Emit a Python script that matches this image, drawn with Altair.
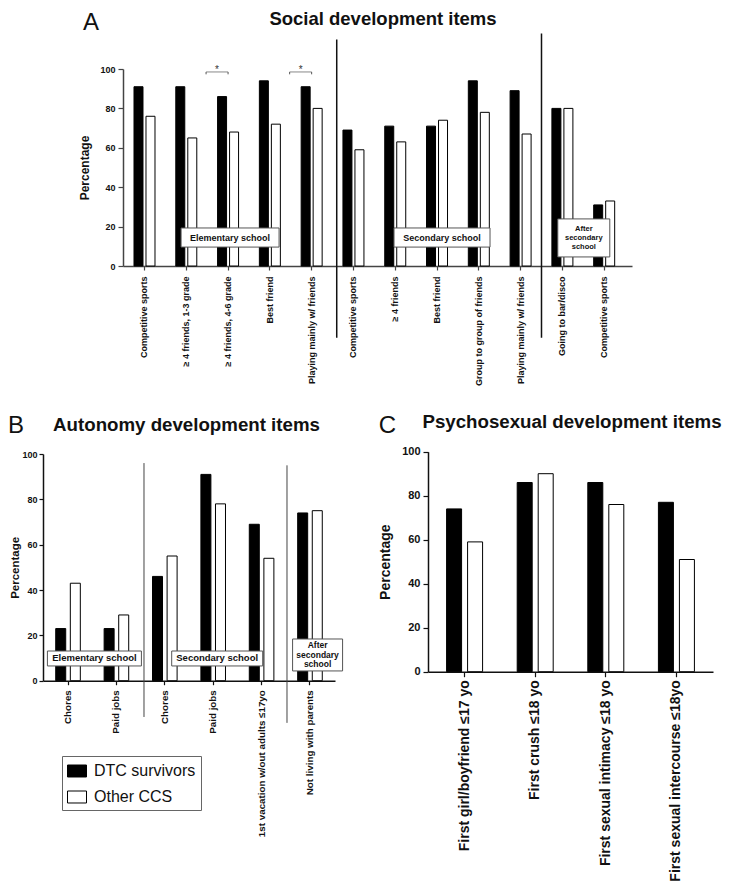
import json
import altair as alt
import pandas as pd

FONT = "Liberation Sans"
SERIES = ["DTC survivors", "Other CCS"]

# ---------------- data ----------------
A_ITEMS = ["Competitive sports", "\u2265  4 friends, 1-3 grade", "\u2265  4 friends, 4-6 grade",
           "Best friend", "Playing mainly w/ friends", "Competitive sports", "\u2265  4 friends",
           "Best friend", "Group to group of friends", "Playing mainly w/ friends",
           "Going to bar/disco", "Competitive sports"]
A_DTC = [91, 91, 86, 94, 91, 69, 71, 71, 94, 89, 80, 31]
A_OTHER = [76, 65, 68, 72, 80, 59, 63, 74, 78, 67, 80, 33]

B_ITEMS = ["Chores", "Paid jobs", "Chores", "Paid jobs",
           "1st vacation w/out adults \u226417yo", "Not living with parents"]
B_DTC = [23, 23, 46, 91, 69, 74]
B_OTHER = [43, 29, 55, 78, 54, 75]

C_ITEMS = ["First girl/boyfriend \u226417 yo", "First crush \u226418 yo",
           "First sexual intimacy \u226418 yo", "First sexual intercourse \u226418yo"]
C_DTC = [74, 86, 86, 77]
C_OTHER = [59, 90, 76, 51]

A_SIGNIF = [2, 4]                      # items with significance bracket
A_BOXES = ["Elementary school", "Secondary school", "After\nsecondary\nschool"]
B_BOXES = ["Elementary school", "Secondary school", "After\nsecondary\nschool"]

W, H = 715, 873


def bars_df(dtc, other):
    rows = []
    for i, (a, b) in enumerate(zip(dtc, other)):
        rows.append({"i": i, "series": SERIES[0], "value": a})
        rows.append({"i": i, "series": SERIES[1], "value": b})
    return pd.DataFrame(rows)


FILL = alt.Scale(domain=SERIES, range=["#000000", "#ffffff"])
LEGEND = alt.Legend(orient="none", legendX=54, legendY=748, title=None,
                    labelFont=FONT, labelFontSize=16, labelColor="#111",
                    symbolType="M-1,-0.63H1V0.63H-1Z", symbolSize=361,
                    symbolStrokeColor="#000", symbolStrokeWidth=1,
                    labelOffset=7, rowPadding=8, padding=5,
                    strokeColor="#666", fillColor="#ffffff")


def bar_layers(dtc, other, xs, ys, xaxis, yaxis, w, off):
    df = bars_df(dtc, other)
    out = []
    for k, s in enumerate(SERIES):
        out.append(
            alt.Chart(df).transform_filter(alt.datum.series == s)
            .mark_bar(width=w, xOffset=(-off if k == 0 else off), stroke="#000", strokeWidth=1)
            .encode(
                x=alt.X("i:O", scale=xs, axis=(xaxis if k == 0 else None), title=None),
                y=alt.Y("value:Q", scale=ys, axis=(yaxis if k == 0 else None)),
                fill=alt.Fill("series:N", scale=FILL, legend=LEGEND),
            )
        )
    return out


def sep_layer(idx, bandpos, top, bottom, xs, ys, color, width):
    df = pd.DataFrame({"i": [idx], "top": [top], "bottom": [bottom]})
    return alt.Chart(df).mark_rule(color=color, strokeWidth=width).encode(
        x=alt.X("i:O", scale=xs, axis=None, bandPosition=bandpos),
        y=alt.Y("top:Q", scale=ys, axis=None), y2="bottom:Q")


def box_layers(idx, off, w, y0, y1, label, xs, ys, fs, lh):
    nlines = label.count("\n") + 1
    df = pd.DataFrame({"i": [idx], "y0": [y0], "y1": [y1], "ym": [(y0 + y1) / 2], "label": [label]})
    rect = alt.Chart(df).mark_bar(width=w, xOffset=off, fill="#ffffff", stroke="#555", strokeWidth=1).encode(
        x=alt.X("i:O", scale=xs, axis=None),
        y=alt.Y("y0:Q", scale=ys, axis=None), y2="y1:Q")
    txt = alt.Chart(df).mark_text(dx=off, dy=-(nlines - 1) * lh / 2,
                                  font=FONT, fontSize=fs, fontWeight="bold",
                                  lineHeight=lh, lineBreak="\n", baseline="middle",
                                  align="center", color="#111").encode(
        x=alt.X("i:O", scale=xs, axis=None),
        y=alt.Y("ym:Q", scale=ys, axis=None), text="label:N")
    return [rect, txt]


def bracket_layers(idx, xs, ys):
    df = pd.DataFrame({"i": [idx], "yb": [98.5], "ye": [97.3], "ys": [98.0]})
    X = alt.X("i:O", scale=xs, axis=None)
    tick = alt.Chart(df).mark_tick(orient="horizontal", size=22, thickness=1, xOffset=-11,
                                   color="#555").encode(x=X, y=alt.Y("yb:Q", scale=ys, axis=None))
    e1 = alt.Chart(df).mark_rule(xOffset=-22, color="#555").encode(
        x=X, y=alt.Y("yb:Q", scale=ys, axis=None), y2="ye:Q")
    e2 = alt.Chart(df).mark_rule(xOffset=0, color="#555").encode(
        x=X, y=alt.Y("yb:Q", scale=ys, axis=None), y2="ye:Q")
    star = alt.Chart(df).mark_text(text="*", dx=-11, fontSize=10, font=FONT,
                                   baseline="alphabetic", color="#333").encode(
        x=X, y=alt.Y("ys:Q", scale=ys, axis=None))
    return [tick, e1, e2, star]


def x_axis(items, yaxis_px, fs, pad, tick, color="#333"):
    return alt.Axis(orient="bottom", offset=-(H - yaxis_px),
                    labelExpr=json.dumps(items, ensure_ascii=False) + "[datum.value]",
                    labelAngle=270, labelFont=FONT, labelFontSize=fs, labelFontWeight="bold",
                    labelColor="#111", labelPadding=pad, tickSize=tick, tickColor=color,
                    domainColor=color, domainWidth=1.5, tickWidth=1.2,
                    labelOverlap=False, labelLimit=500, title=None)


def y_axis(xpx, fs, tick, tfs, tpad, color="#333", lpad=3):
    return alt.Axis(orient="left", offset=-xpx, values=[0, 20, 40, 60, 80, 100],
                    labelFont=FONT, labelFontSize=fs, labelFontWeight="bold", labelColor="#111",
                    labelPadding=lpad, tickSize=tick, tickColor=color, tickWidth=1.2,
                    domainColor=color, domainWidth=1.5, grid=False,
                    title="Percentage", titleFont=FONT, titleFontSize=tfs,
                    titleFontWeight="bold", titleColor="#111", titlePadding=tpad)


# ---------------- panel A ----------------
xsA = alt.Scale(type="band", domain=list(range(len(A_ITEMS))), range=[115, 624],
                paddingInner=0, paddingOuter=0.09, align=0.08)
ysA = alt.Scale(domain=[0, 100], range=[258, 61], nice=False, zero=False)
layersA = bar_layers(A_DTC, A_OTHER, xsA, ysA,
                     x_axis(A_ITEMS, 258, 9, 6, 4, "#444"),
                     y_axis(115, 9, 5, 12, 8, "#444"), 9, 6)
layersA += [sep_layer(5, 0.1, 115, -36.4, xsA, ysA, "#111", 1.5),
            sep_layer(10, 0.0, 118, -36.4, xsA, ysA, "#111", 1.5)]
layersA += box_layers(2, 2, 98, 9.6, 19.3, A_BOXES[0], xsA, ysA, 9, 10)
layersA += box_layers(7, 5, 96, 9.6, 19.3, A_BOXES[1], xsA, ysA, 9, 10)
layersA += box_layers(10, 21.4, 52, 4.6, 23.9, A_BOXES[2], xsA, ysA, 7.5, 9)
for s in A_SIGNIF:
    layersA += bracket_layers(s, xsA, ysA)

# ---------------- panel B ----------------
xsB = alt.Scale(type="band", domain=list(range(len(B_ITEMS))), range=[35, 327],
                paddingInner=0, paddingOuter=0.017)
ysB = alt.Scale(domain=[0, 100], range=[672.7, 446], nice=False, zero=False)
layersB = bar_layers(B_DTC, B_OTHER, xsB, ysB,
                     x_axis(B_ITEMS, 672.7, 9.8, 5, 4, "#111"),
                     y_axis(35, 9, 4, 11.5, 1.5, "#111", lpad=2), 10, 7.3)
layersB += [sep_layer(2, 0.07, 96, -16, xsB, ysB, "#444", 1),
            sep_layer(5, 0.025, 95, -18.6, xsB, ysB, "#444", 1)]
layersB += box_layers(1, -22, 94, 6.5, 13.1, B_BOXES[0], xsB, ysB, 9.5, 10)
layersB += box_layers(3, 4, 91, 6.5, 13.1, B_BOXES[1], xsB, ysB, 9.5, 10)
layersB += box_layers(5, 7.6, 50, 4.3, 18.4, B_BOXES[2], xsB, ysB, 8.5, 9.5)

# ---------------- panel C ----------------
xsC = alt.Scale(type="band", domain=list(range(len(C_ITEMS))), range=[420, 705],
                paddingInner=0, paddingOuter=0.018)
ysC = alt.Scale(domain=[0, 100], range=[663.7, 443.7], nice=False, zero=False)
layersC = bar_layers(C_DTC, C_OTHER, xsC, ysC,
                     x_axis(C_ITEMS, 663.7, 14, 3, 5, "#111"),
                     y_axis(420, 11, 5, 14, 9, "#111"), 15, 10.5)


# ---------------- headings ----------------
def heading(text, x, y, size, weight, align="center"):
    return alt.Chart(alt.Data(values=[{}])).mark_text(
        text=text, font=FONT, fontSize=size, fontWeight=weight, align=align,
        baseline="alphabetic", color="#111").encode(x=alt.value(x), y=alt.value(y))


heads = [
    heading("A", 83, 22, 24, "normal"),
    heading("Social development items", 375, 17, 18.5, "bold"),
    heading("B", 0, 425, 24, "normal", align="left"),
    heading("Autonomy development items", 178.5, 423, 18.7, "bold"),
    heading("C", 379.5, 425, 24, "normal"),
    heading("Psychosexual development items", 564, 420, 18.7, "bold"),
]

chart = (
    alt.layer(*layersA, *layersB, *layersC, *heads)
    .resolve_scale(x="independent", y="independent")
    .resolve_axis(x="independent", y="independent")
    .properties(width=W, height=H, autosize=alt.AutoSizeParams(type="none"), padding=0)
    .configure_view(stroke=None)
)

chart.save("out.html", embed_options={"renderer": "svg", "actions": False})
